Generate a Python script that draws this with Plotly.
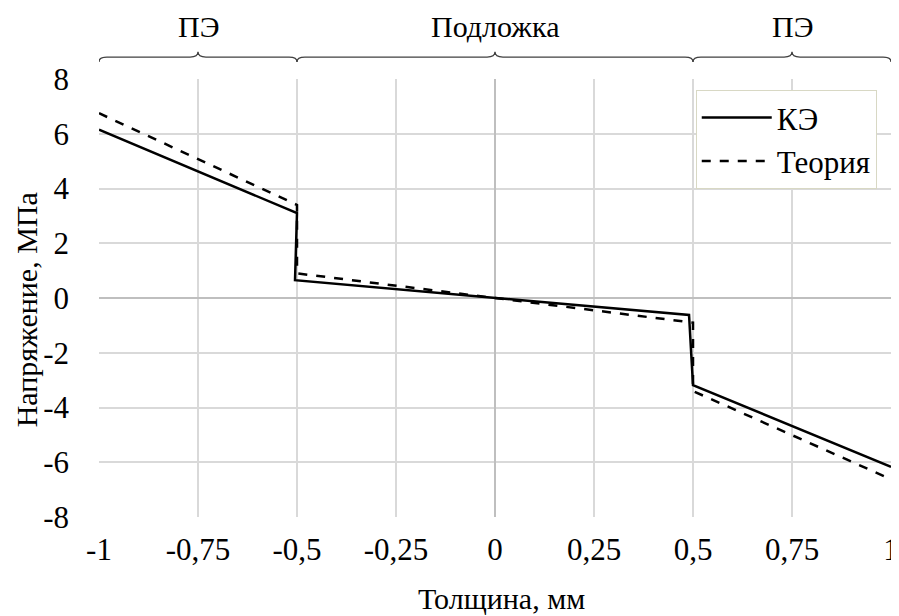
import plotly.graph_objects as go

# Data
ke_x = [-1.0, -0.5, -0.505, 0.0, 0.49, 0.5, 1.0]
ke_y = [6.15, 3.1, 0.65, 0.0, -0.62, -3.18, -6.17]
th_x = [-1.0, -0.5, -0.5, 0.0, 0.5, 0.5, 1.0]
th_y = [6.75, 3.4, 0.9, 0.0, -0.9, -3.4, -6.62]

x_ticks = [-1, -0.75, -0.5, -0.25, 0, 0.25, 0.5, 0.75, 1]
x_tick_labels = ["-1", "-0,75", "-0,5", "-0,25", "0", "0,25", "0,5", "0,75", "1"]
y_ticks = [-8, -6, -4, -2, 0, 2, 4, 6, 8]
y_tick_labels = ["-8", "-6", "-4", "-2", "0", "2", "4", "6", "8"]

regions = [(-1.0, -0.5, "ПЭ"), (-0.5, 0.5, "Подложка"), (0.5, 1.0, "ПЭ")]

x_title = "Толщина, мм"
y_title = "Напряжение, МПа"

FONT = "Liberation Serif"
FS_TICK = 31
FS_EDGE = 30

fig = go.Figure()
fig.add_trace(go.Scatter(x=ke_x, y=ke_y, mode="lines", name="КЭ",
                         line=dict(color="black", width=2.5)))
fig.add_trace(go.Scatter(x=th_x, y=th_y, mode="lines", name="Теория",
                         line=dict(color="black", width=2.5, dash="dash")))

shapes = []
y_line, y_end, y_tip = 1.050, 1.039, 1.062
d = 0.02
for x0, x1, label in regions:
    xm = (x0 + x1) / 2
    path = (f"M {x0},{y_end} Q {x0},{y_line} {x0+d},{y_line} "
            f"L {xm-d},{y_line} Q {xm},{y_line} {xm},{y_tip} "
            f"Q {xm},{y_line} {xm+d},{y_line} "
            f"L {x1-d},{y_line} Q {x1},{y_line} {x1},{y_end}")
    shapes.append(dict(type="path", path=path, xref="x", yref="paper",
                       line=dict(color="#404040", width=1.3)))
    fig.add_annotation(x=xm, y=1.121, xref="x", yref="paper", text=label,
                       showarrow=False, font=dict(family=FONT, size=FS_EDGE, color="black"),
                       yanchor="middle")

# axis titles
fig.add_annotation(x=0.508, y=-0.185, xref="paper", yref="paper", text=x_title,
                   showarrow=False, xanchor="center", yanchor="middle",
                   font=dict(family=FONT, size=FS_EDGE, color="black"))
fig.add_annotation(x=-0.0915, y=0.473, xref="paper", yref="paper", text=y_title,
                   showarrow=False, xanchor="center", yanchor="middle", textangle=-90,
                   font=dict(family=FONT, size=FS_EDGE, color="black"))

fig.update_layout(
    width=891, height=608,
    margin=dict(l=91, r=8, t=71, b=99, autoexpand=False),
    paper_bgcolor="white", plot_bgcolor="white",
    font=dict(family=FONT, size=FS_TICK, color="black"),
    shapes=shapes,
    showlegend=True,
    legend=dict(x=0.982, y=0.975, xanchor="right", yanchor="top",
                bgcolor="white", bordercolor="#d8d8c4", borderwidth=1,
                font=dict(family=FONT, size=FS_TICK, color="black"),
                itemwidth=70, tracegroupgap=2),
)
fig.update_xaxes(range=[-1, 1], tickvals=x_ticks, ticktext=x_tick_labels,
                 showgrid=True, gridcolor="#d9d9d9", gridwidth=1.5,
                 zeroline=True, zerolinecolor="#bfbfbf", zerolinewidth=2,
                 showline=False, ticks="", automargin=False,
                 ticklabelstandoff=11, ticklabeloverflow="allow",
                 tickfont=dict(family=FONT, size=FS_TICK))
fig.update_yaxes(range=[-8, 8], tickvals=y_ticks, ticktext=y_tick_labels,
                 showgrid=True, gridcolor="#d9d9d9", gridwidth=1.5,
                 zeroline=True, zerolinecolor="#bfbfbf", zerolinewidth=2,
                 showline=False, ticks="", automargin=False,
                 ticklabelstandoff=29,
                 tickfont=dict(family=FONT, size=FS_TICK))

fig.write_html("out.html")
